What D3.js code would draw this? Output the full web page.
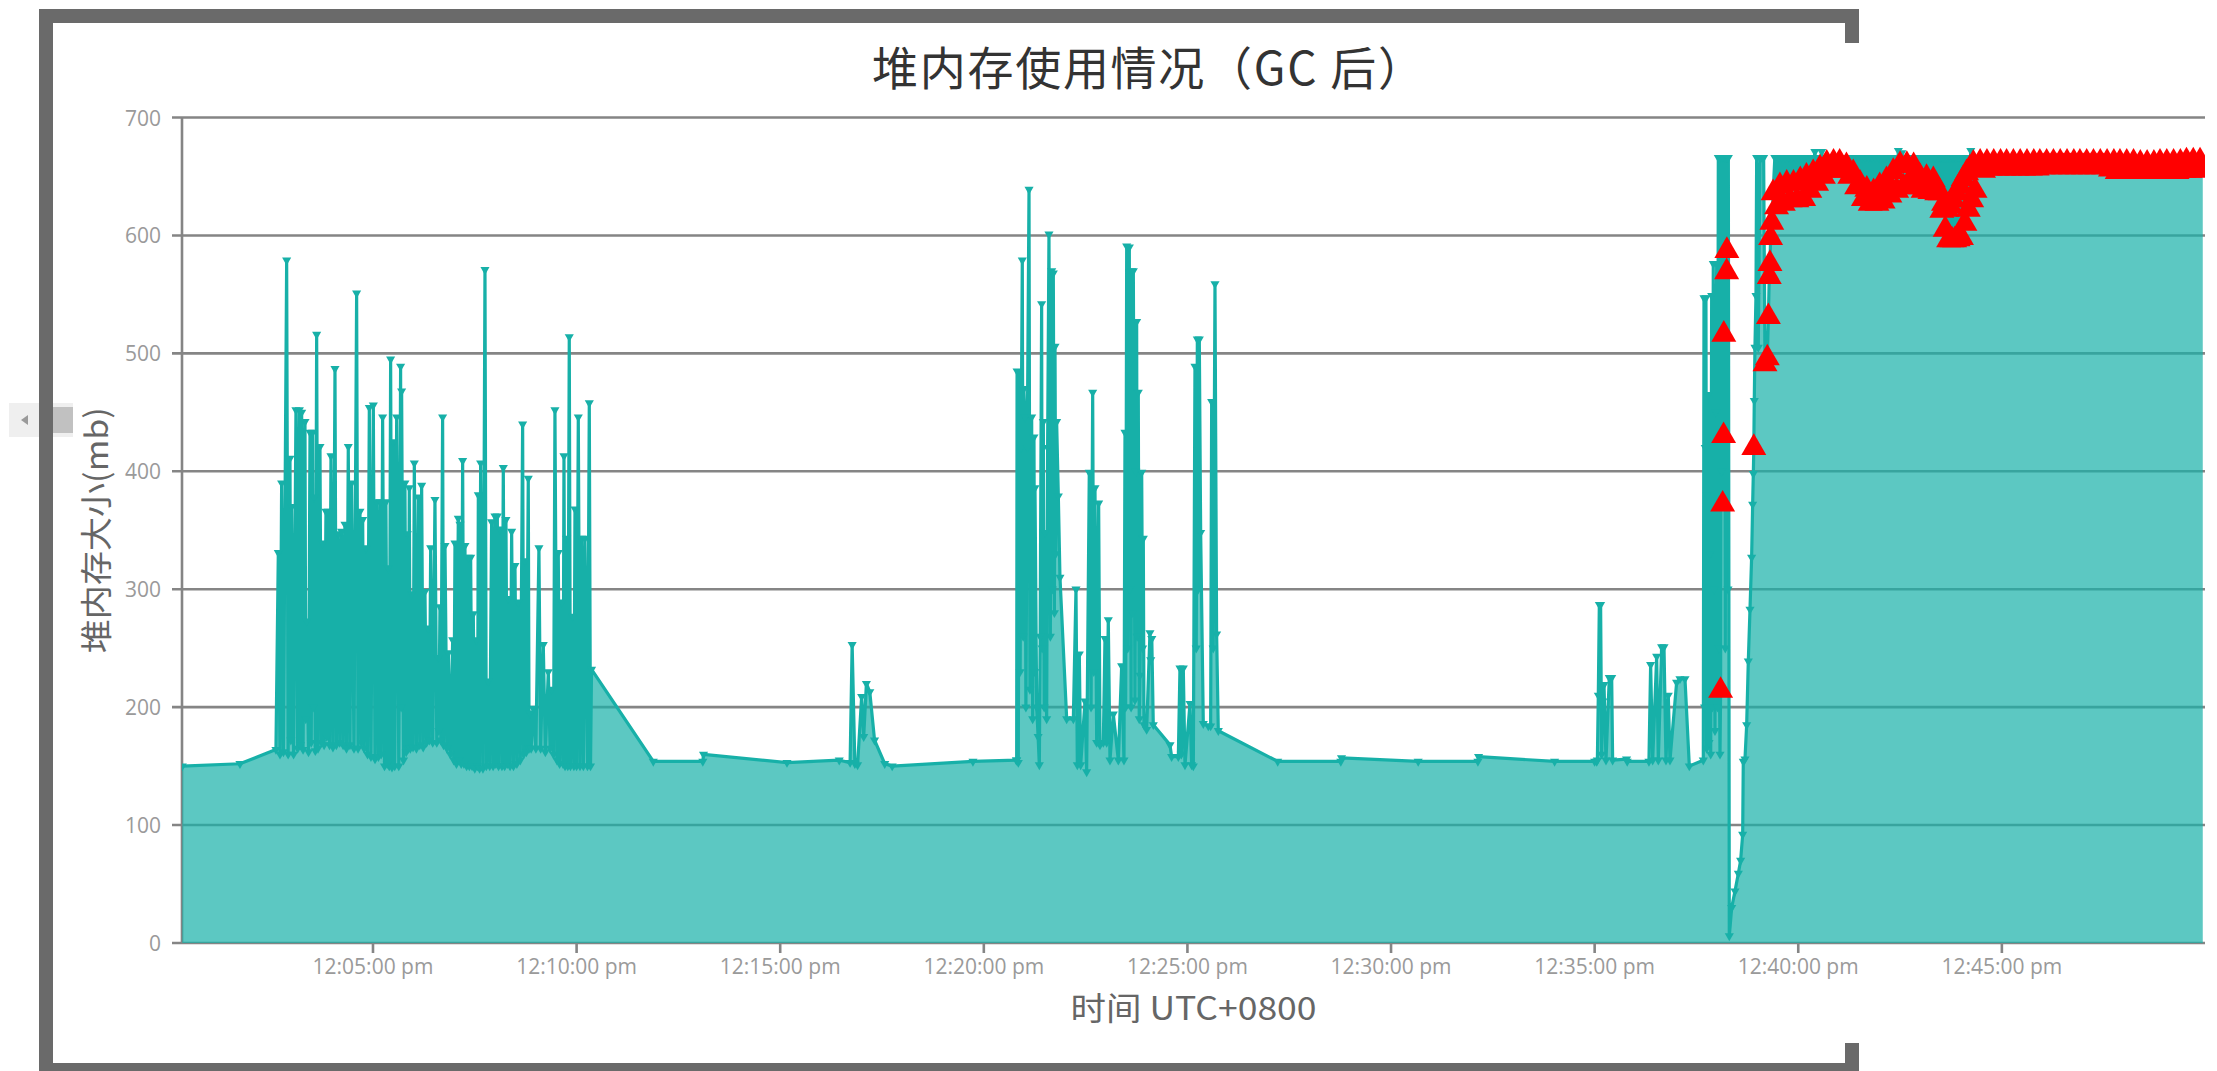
<!DOCTYPE html>
<html><head><meta charset="utf-8">
<script src="https://cdn.jsdelivr.net/npm/d3@7"></script>
<style>
html,body{margin:0;padding:0;background:#fff;}
svg{display:block;}
</style></head><body>
<svg id="chart" width="2217" height="1071"></svg>
<script>
// ---------------- DATA ----------------
const chartTitle = "堆内存使用情况（GC 后）";
const yAxisTitle = "堆内存大小(mb)";
const xAxisTitle = "时间 UTC+0800";
const yTickValues = [0, 100, 200, 300, 400, 500, 600, 700];
const xTickMinutes = [5, 10, 15, 20, 25, 30, 35, 40, 45];
const xDomainSeconds = [18.6, 2999.3];   // seconds after 12:00:00
const yDomain = [0, 700];

// heap after GC samples: [seconds after 12:00:00, MB]
const heapEarly = [[19,150],[104,152],[157,164]];
const heapBurst1 = [
[160.5,331],[163,160],[165.4,390],[168,162],[172.8,579],[175,160],[177.7,411],[179,172],[180.2,370],[183,160],
[186.5,452],[189,165],[191.5,452],[193,168],[194.9,450],[197,164],[199.8,442],[201,190],[202.3,273],[205,162],
[207.2,433],[209,170],[211.1,433],[212,200],[213.1,378],[215,163],[217,516],[219,165],[221.9,421],[224,170],
[225.8,339],[228,168],[230.7,366],[232,175],[234.2,366],[236,168],[238.1,413],[241,166],[244,487],[246,168],
[248.9,347],[251,170],[253.8,349],[256,168],[258.7,355],[261,165],[263.6,421],[266,168],[268.5,390],[272,165],
[275.9,551],[278,165],[280.8,366],[283,170],[284.8,359],[287,165],[289.7,335],[292,160],[294.6,454],[297,158],
[300.5,456],[303,156],[305.4,374],[308,158],[310.3,374],[312,160],[314.2,446],[317,150],[319.1,374],[321,152],
[322.6,318],[324,150],[326,495],[328,149],[330,425],[332,150],[334.9,446],[338,150],[340.7,489],[341.5,200],
[342.2,468],[345,155],[347.1,390],[349,162],[350.6,347],[352,165],[353.5,386],[355,165],[357,296],[359,166],
[360.9,407],[364,165],[366.8,378],[369,168],[371.7,388],[374,166],[376.6,298],[379,170],[381.5,267],[383,172],
[385,335],[388,170],[391.3,376],[394,170],[396.2,242],[397,180],[398.7,285],[400,172],[402.6,446],[404,168],
[406.1,337],[409,165],[411,246],[414,160],[417.4,257],[419,155],[420.8,339],[423,152],[425.7,360],[427,155],
[428.2,355],[430,152],[432.1,409],[434,152],[435.5,337],[438,150],[440.4,327],[442,150],[443.9,327],[446,150],
[447.8,279],[450,148],[452.7,257],[454,150],[455.2,380],[457,148],[458.6,407],[462,148],[465,571],[467,150],
[469.9,222],[472,150],[474.8,357],[477,150],[479.7,362],[481,152],[483.2,362],[485,150],[487.1,351],[490,150],
[492,403],[494,150],[495.9,359],[498,152],[499.4,292],[502,150],[504.3,349],[507,150],[509.2,320],[512,152],
[514.1,289],[517,155],[520.5,440],[522,160],[523.9,324],[526,162],[528.8,394],[530,165],[531.3,195],[533,165],
[536.2,199],[540,165],[544.5,335],[547,165],[550.9,253],[554,162],[558.3,230],[561,165],[563.2,215],[566,160],
[568.1,452],[571,155],[573,331],[575,152],[578,289],[580,152],[581.4,413],[583,150],[585.3,343],[587,150],
[589.2,514],[591,150],[594.1,277],[596,150],[597.6,368],[600,150],[602.5,446],[605,150],[607.4,343],[610,150],
[612.3,343],[616,150],[618.7,458],[620.5,150],[622,232]
];
const heapQuiet1 = [
[713,154],[786,154],[787,160],[910,153],[987,155],[1003,153],[1006,253],[1010,152],[1014,151],[1020,209],
[1023,175],[1027,220],[1032,213],[1039,172],[1054,152],[1065,150],[1184,154],[1248,155]
];
const heapBurst2 = [
[1248.4,155],[1249,485],[1250.8,153],[1252,484],[1253.5,230],[1255,420],[1256.7,579],[1258,260],[1259,470],
[1260.7,446],[1262,200],[1264,420],[1266.6,639],[1268,215],[1270.5,446],[1272,190],[1273.9,429],[1275,230],
[1275.4,386],[1277.9,200],[1280,175],[1281.8,151],[1283,260],[1285.2,542],[1286,250],[1287.7,442],[1289,200],
[1290.1,348],[1292.6,190],[1294,420],[1296,601],[1298,260],[1300,570],[1301,300],[1302.4,568],[1304,280],
[1304.9,506],[1306,330],[1307.3,442],[1309.8,379],[1312.2,310],[1322.1,190],[1331.9,190],[1335.8,300],
[1337.8,151],[1340.7,245],[1342.7,151],[1349.1,205],[1351.5,145],[1355.4,399],[1358,200],[1360.4,467],
[1362,230],[1363.8,386],[1366.3,170],[1369.2,373],[1371.2,168],[1376.1,170],[1378.5,258],[1381,170],
[1383.4,274],[1385.9,155],[1390.8,194],[1398.2,155],[1403.1,235],[1406.5,155],[1408,433],[1409,200],
[1410.5,591],[1412,250],[1414.4,590],[1415,300],[1416.3,493],[1417,200],[1417.8,570],[1419,280],[1420.3,570],
[1422.7,206],[1424,400],[1425.2,527],[1426,260],[1427.6,467],[1429,190],[1430.1,227],[1432.6,399],[1434,250],
[1435,343],[1436,185],[1439.9,181],[1444.8,263],[1446,240],[1447.5,258],[1449.7,185],[1474.3,168],[1476.7,158],
[1486.6,158],[1489,233],[1491,160],[1493.9,233],[1496.4,151],[1503.8,203],[1506.2,151],[1508.7,150],[1511.1,489],
[1513,250],[1514.6,512],[1516,300],[1517.5,512],[1519.5,348],[1523.4,186],[1530.8,184],[1534.2,184],[1535.7,459],
[1538,250],[1540.6,559],[1543,262],[1545.5,180]
];
const heapQuiet2 = [
[1633,154],[1726,154],[1727,157],[1840,154],[1928,154],[1929,158],[2041,154],[2100,154]
];
const heapBurst3 = [
[2103,154],[2104,155],[2105.4,210],[2106.9,287],[2108.8,287],[2110.3,160],[2112,205],[2113.8,219],[2116.7,155],
[2121.6,225],[2125.1,225],[2126.5,155],[2147,156],[2148,154],[2180,154],[2182.5,236],[2185.5,155],[2191.4,243],
[2193.8,155],[2198.7,251],[2202.2,251],[2205.1,155],[2208.5,210],[2211,155],[2220.8,221],[2225.7,224],
[2233.1,224],[2239.5,150],[2260.1,155],[2261.1,547],[2262,200],[2263,420],[2264,547],[2265,165],[2266,380],
[2267.5,465],[2268.5,170],[2269.9,330],[2271,160],[2272.4,549],[2273.5,200],[2274.8,576],[2276,300],[2277.3,180],
[2278.5,450],[2279.8,576],[2281,200],[2282.2,666],[2283.5,250],[2284.7,160],[2286.5,666],[2287.1,400],
[2289.5,666],[2291.5,666],[2292.5,250],[2293.5,666],[2295.5,666],[2296.5,300],[2297,666],[2298.4,6],
[2301.9,30],[2306.8,44],[2311.7,59],[2315.1,70],[2318.1,92],[2319,154],[2321.5,156],[2324,185],[2326.4,239],
[2328.9,283],[2331.3,327],[2332.8,372],[2333.8,398],[2335.2,460],[2336.2,505],[2337.7,549],[2338.7,666],
[2341.1,505],[2343.6,666],[2346,666],[2349,666]
];
const heapPlateauTops = [
[2365.5,666],[2370.5,666],[2375.5,666],[2380.5,666],[2385.5,666],[2390.5,666],[2395.5,666],[2400.5,666],
[2405.5,666],[2410.5,666],[2414.5,666],[2419.5,666],[2424.5,671],[2429.5,666],[2434.5,671],[2439.5,666],
[2444.5,666],[2449.5,666],[2454.5,666],[2459.5,666],[2463.5,666],[2468.5,666],[2473.5,666],[2478.5,666],
[2483.5,666],[2488.5,666],[2493.5,666],[2498.5,666],[2503.5,666],[2508.5,666],[2513.5,666],[2518.5,666],
[2522.5,666],[2527.5,666],[2532.5,666],[2537.5,666],[2542.5,666],[2547.5,672],[2552.5,670],[2557.5,666],
[2562.5,666],[2567.5,666],[2572.5,666],[2577.5,666],[2581.5,666],[2586.5,666],[2591.5,666],[2596.5,666],
[2601.5,666],[2606.5,666],[2610.2,666],[2612.7,666],[2615.2,666],[2617.7,666],[2620.2,666],[2622.7,666],
[2625.2,666],[2627.7,666],[2629.2,666],[2631.7,666],[2634.2,666],[2636.7,666],[2639.2,666],[2641.7,666],
[2644.2,666],[2646.7,666],[2649.2,666],[2651.7,666],[2654.2,672],[2656.7,666],[2659.2,666],[2661.7,666]
];
// flagged samples (red markers), also part of the heap line
const gcAlerts = [
[2285.6,214],[2288.6,372],[2290,430],[2290.3,516],[2294.5,569],[2294.8,587],
[2334.5,420],[2351,491],[2354.4,496],[2356,531],[2357.3,565],[2358.3,576],[2359.3,598],[2361,611],
[2363,636],[2368,624],[2373,642],[2378,627],[2383,644],[2388,630],[2393,644],[2398,630],[2403,647],[2408,631],
[2412,650],[2417,638],[2422,653],[2427,644],[2432,657],[2437,650],[2442,661],[2447,655],[2452,662],[2457,657],
[2461,662],[2466,655],[2471,659],[2476,650],[2481,653],[2486,641],[2491,644],[2496,631],[2501,639],[2506,627],
[2511,637],[2516,627],[2520,642],[2525,629],[2530,647],[2535,634],[2540,654],[2545,638],[2550,660],[2555,641],
[2560,660],[2565,647],[2570,659],[2575,641],[2579,650],[2584,638],[2589,649],[2594,637],[2599,647],[2604,636],
[2609,636],[2611.5,621],[2614,627],[2616.5,605],[2619,622],[2621.5,596],[2624,625],[2626.5,596],[2628,630],
[2630.5,596],[2633,636],[2635.5,597],[2638,642],[2640.5,598],[2643,648],[2645.5,610],[2648,653],[2650.5,622],
[2653,657],[2655.5,630],[2658,661],[2660.5,638],
[2668,662],[2673,655],[2678,662],[2683,657],[2688,662],[2693,657],[2698,662],[2703,657],[2707,662],[2712,657],
[2717,662],[2722,657],[2727,662],[2732,657],[2737,662],[2742,657],[2747,662],[2752,657],[2756,662],[2761,658],
[2766,662],[2771,658],[2776,662],[2781,658],[2786,662],[2791,658],[2796,662],[2801,658],[2806,662],[2811,658],
[2815,662],[2820,658],[2825,662],[2830,658],[2835,662],[2840,658],[2845,662],[2850,658],[2855,662],[2860,656],
[2865,662],[2870,654],[2874,662],[2879,654],[2884,662],[2889,654],[2894,662],[2899,654],[2904,661],[2909,654],
[2914,661],[2919,654],[2924,661],[2929,654],[2933,662],[2938,654],[2943,662],[2948,654],[2953,662],[2958,654],
[2963,662],[2968,655],[2972,663],[2977,655],[2982,663],[2987,655],[2992,663],[2996,656]
];

// ---------------- CHART ----------------
const svg = d3.select("#chart");
const W = 2217, H = 1071;
const plot = {left: 182, right: 2205, top: 117.5, bottom: 943};
const base = new Date(2020, 0, 1, 12, 0, 0);
const toDate = s => new Date(base.getTime() + s * 1000);

const x = d3.scaleTime().domain(xDomainSeconds.map(toDate)).range([plot.left, plot.right]);
const y = d3.scaleLinear().domain(yDomain).range([plot.bottom, plot.top]);

const teal = "#17b0a8", gridCol = "#858585";

svg.append("rect").attr("width", W).attr("height", H).attr("fill", "#fff");

// grid lines (with left tick stubs)
svg.append("g").selectAll("line").data(yTickValues).join("line")
  .attr("x1", plot.left - 10).attr("x2", plot.right)
  .attr("y1", d => y(d)).attr("y2", d => y(d))
  .attr("stroke", gridCol).attr("stroke-width", 2.6);
// y axis line
svg.append("line").attr("x1", plot.left).attr("x2", plot.left)
  .attr("y1", y(700)).attr("y2", y(0)).attr("stroke", gridCol).attr("stroke-width", 2.6);

// series
const heapSeries = [].concat(heapEarly, heapBurst1, heapQuiet1, heapBurst2, heapQuiet2, heapBurst3, heapPlateauTops)
  .map(([s, v]) => ({t: s, v: v, alert: false}))
  .concat(gcAlerts.map(([s, v]) => ({t: s, v: v, alert: true})))
  .sort((a, b) => a.t - b.t);

svg.append("clipPath").attr("id", "plotClip").append("rect")
  .attr("x", plot.left).attr("y", 0).attr("width", plot.right - plot.left).attr("height", plot.bottom + 6);

const g = svg.append("g").attr("clip-path", "url(#plotClip)");

const area = d3.area().x(d => x(toDate(d.t))).y0(y(0)).y1(d => y(d.v));
const line = d3.line().x(d => x(toDate(d.t))).y(d => y(d.v));

g.append("path").datum(heapSeries).attr("d", area).attr("fill", teal).attr("fill-opacity", 0.7);
g.append("path").datum(heapSeries).attr("d", line).attr("fill", "none")
  .attr("stroke", teal).attr("stroke-width", 3.2).attr("stroke-linejoin", "round");

const tri = d3.symbol().type(d3.symbolTriangle);
g.append("g").selectAll("path").data(heapSeries.filter(d => !d.alert)).join("path")
  .attr("d", tri.size(36)())
  .attr("transform", d => `translate(${x(toDate(d.t))},${y(d.v)}) rotate(180)`)
  .attr("fill", teal);
g.append("g").selectAll("path").data(heapSeries.filter(d => d.alert)).join("path")
  .attr("d", d3.symbol().type(d3.symbolTriangle).size(270)())
  .attr("transform", d => `translate(${x(toDate(d.t))},${y(d.v)})`)
  .attr("fill", "#ff0000");

// x axis ticks & labels
const xTicks = xTickMinutes.map(m => toDate(m * 60));
const fmt = d => d3.timeFormat("%I:%M:%S")(d) + " " + d3.timeFormat("%p")(d).toLowerCase();
const xg = svg.append("g");
xg.selectAll("line").data(xTicks).join("line")
  .attr("x1", d => x(d)).attr("x2", d => x(d)).attr("y1", plot.bottom).attr("y2", plot.bottom + 10)
  .attr("stroke", gridCol).attr("stroke-width", 2.6);
xg.selectAll("text").data(xTicks).join("text")
  .attr("x", d => x(d)).attr("y", 966).attr("text-anchor", "middle").attr("dominant-baseline", "central")
  .attr("font-family", "'Open Sans', sans-serif").attr("font-size", 21).attr("fill", "#9a9a9a")
  .text(fmt);

// y tick labels
svg.append("g").selectAll("text").data(yTickValues).join("text")
  .attr("x", 161).attr("y", d => y(d)).attr("text-anchor", "end").attr("dominant-baseline", "central")
  .attr("font-family", "'Open Sans', sans-serif").attr("font-size", 21).attr("fill", "#9a9a9a")
  .text(d => d);

// titles
svg.append("text").attr("x", 1148).attr("y", 85).attr("text-anchor", "middle")
  .attr("font-family", "'Noto Sans CJK SC', sans-serif").attr("font-size", 46).attr("fill", "#333")
  .attr("textLength", 552).attr("lengthAdjust", "spacing")
  .text(chartTitle);
svg.append("text").attr("x", (plot.left + plot.right) / 2).attr("y", 1006)
  .attr("text-anchor", "middle").attr("dominant-baseline", "central")
  .attr("font-family", "'Noto Sans CJK SC', sans-serif").attr("font-size", 32).attr("fill", "#666")
  .attr("textLength", 246).attr("lengthAdjust", "spacingAndGlyphs")
  .text(xAxisTitle);
svg.append("text").attr("transform", `translate(94,${(plot.top + plot.bottom) / 2}) rotate(-90)`)
  .attr("text-anchor", "middle").attr("dominant-baseline", "central")
  .attr("font-family", "'Noto Sans CJK SC', sans-serif").attr("font-size", 32).attr("fill", "#666")
  .attr("textLength", 246).attr("lengthAdjust", "spacingAndGlyphs")
  .text(yAxisTitle);

// scroll widget on the left
svg.append("rect").attr("x", 9).attr("y", 403).attr("width", 64).attr("height", 34).attr("fill", "#efefef");
svg.append("rect").attr("x", 53).attr("y", 407).attr("width", 20).attr("height", 26).attr("fill", "#c1c1c1");
svg.append("path").attr("d", "M21,420 L28,415 L28,425 Z").attr("fill", "#9a9a9a");

// frame
const frameCol = "#6a6a6a";
[[39, 9, 1820, 14], [39, 9, 14, 1062], [39, 1063, 1820, 8], [1845, 9, 14, 34], [1845, 1043, 14, 28]]
  .forEach(([fx, fy, fw, fh]) => svg.append("rect").attr("x", fx).attr("y", fy).attr("width", fw).attr("height", fh).attr("fill", frameCol));
</script>
</body></html>
